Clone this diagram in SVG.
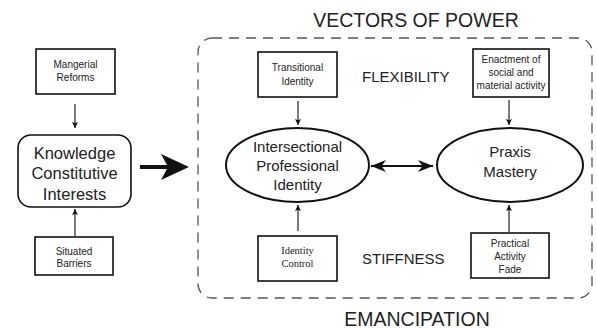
<svg xmlns="http://www.w3.org/2000/svg" width="597" height="329" viewBox="0 0 597 329">
<defs>
<style>
.box{fill:#fff;stroke:#111;stroke-width:1.6}
.ell{fill:#fff;stroke:#111;stroke-width:2}
.s{font-family:"Liberation Sans",Arial,sans-serif;font-size:10px;fill:#222;text-anchor:middle}
.sf{font-family:"Liberation Serif","Times New Roman",serif;font-size:10.5px;fill:#222;text-anchor:middle}
.m{font-family:"Liberation Sans",Arial,sans-serif;font-size:15px;fill:#222;text-anchor:middle}
.k{font-family:"Liberation Sans",Arial,sans-serif;font-size:16.5px;fill:#222;text-anchor:middle}
.l{font-family:"Liberation Sans",Arial,sans-serif;font-size:15px;fill:#222}
.t{font-family:"Liberation Sans",Arial,sans-serif;font-size:19.5px;fill:#222;text-anchor:middle}
.c{stroke:#222;stroke-width:1.2;fill:none}
</style>
<marker id="ah" viewBox="0 0 10 10" refX="10" refY="5" markerWidth="6" markerHeight="6" orient="auto" markerUnits="userSpaceOnUse"><path d="M0,0 L10,5 L0,10 L2,5 z" fill="#111"/></marker>
<marker id="ahb" viewBox="0 0 10 10" refX="10" refY="5" markerWidth="15" markerHeight="15" orient="auto-start-reverse" markerUnits="userSpaceOnUse"><path d="M0,1 L10,5 L0,9 L3,5 z" fill="#111"/></marker>
</defs>
<rect width="597" height="329" fill="#fff"/>

<text class="t" x="416" y="27">VECTORS OF POWER</text>
<text class="t" x="417" y="326">EMANCIPATION</text>
<rect x="198" y="38" width="394" height="260" rx="14" fill="none" stroke="#555" stroke-width="1.3" stroke-dasharray="10,7"/>
<text class="l" x="362" y="82">FLEXIBILITY</text>
<text class="l" x="362" y="264">STIFFNESS</text>

<g id="connectors">
<line class="c" x1="75" y1="104" x2="75" y2="128" marker-end="url(#ah)"/>
<line class="c" x1="75" y1="236" x2="75" y2="209" marker-end="url(#ah)"/>
<line x1="140" y1="167" x2="170" y2="167" stroke="#111" stroke-width="4"/>
<polygon points="189,167 161,154 168,167 161,180" fill="#111"/>
<line class="c" x1="298" y1="101" x2="298" y2="125" marker-end="url(#ah)"/>
<line class="c" x1="298" y1="231" x2="298" y2="205" marker-end="url(#ah)"/>
<line x1="371" y1="166" x2="433" y2="166" stroke="#111" stroke-width="2.2" marker-start="url(#ahb)" marker-end="url(#ahb)"/>
<line class="c" x1="509" y1="100" x2="509" y2="125" marker-end="url(#ah)"/>
<line class="c" x1="509" y1="232" x2="509" y2="205" marker-end="url(#ah)"/>
</g>

<g id="mangerial">
<rect class="box" x="36" y="49" width="79" height="45"/>
<text class="s" x="75.5" y="68">Mangerial</text>
<text class="s" x="75.5" y="81">Reforms</text>
</g>
<g id="kci">
<rect class="box" x="18" y="135" width="113" height="72" rx="13" stroke-width="2"/>
<text class="k" x="74.5" y="159">Knowledge</text>
<text class="k" x="74.5" y="179">Constitutive</text>
<text class="k" x="74.5" y="200">Interests</text>
</g>
<g id="situated">
<rect class="box" x="35" y="237" width="78" height="38"/>
<text class="s" x="74" y="255">Situated</text>
<text class="s" x="74" y="267">Barriers</text>
</g>
<g id="transitional">
<rect class="box" x="258" y="52" width="79" height="45"/>
<text class="s" x="297.5" y="71">Transitional</text>
<text class="s" x="297.5" y="85">Identity</text>
</g>
<g id="ipi">
<ellipse class="ell" cx="297.5" cy="165" rx="71.5" ry="37"/>
<text class="m" x="297.5" y="152">Intersectional</text>
<text class="m" x="297.5" y="171">Professional</text>
<text class="m" x="297.5" y="190">Identity</text>
</g>
<g id="identitycontrol">
<rect class="box" x="258" y="236" width="79" height="45"/>
<text class="sf" x="297.5" y="254">Identity</text>
<text class="sf" x="297.5" y="267">Control</text>
</g>
<g id="enactment">
<rect class="box" x="473" y="49" width="76" height="48"/>
<text class="s" x="511" y="63">Enactment of</text>
<text class="s" x="511" y="76">social and</text>
<text class="s" x="511" y="89">material activity</text>
</g>
<g id="praxis">
<ellipse class="ell" cx="510" cy="165" rx="73" ry="37"/>
<text class="m" x="510" y="157">Praxis</text>
<text class="m" x="510" y="177">Mastery</text>
</g>
<g id="practical">
<rect class="box" x="471" y="233" width="78" height="45"/>
<text class="s" x="510" y="247">Practical</text>
<text class="s" x="510" y="260">Activity</text>
<text class="s" x="510" y="273">Fade</text>
</g>
</svg>
